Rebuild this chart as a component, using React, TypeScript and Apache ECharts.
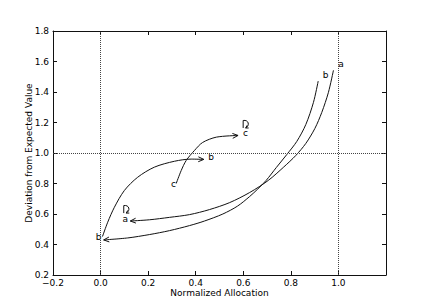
import React, { useEffect, useRef } from "react";
import * as echarts from "echarts";

// Trajectory curves (Normalized Allocation, Deviation from Expected Value)
const curveA: [number, number][] = [
  [0.979, 1.542], [0.958, 1.398], [0.93, 1.266], [0.901, 1.161], [0.863, 1.063],
  [0.821, 0.984], [0.77, 0.908], [0.705, 0.82], [0.627, 0.741], [0.543, 0.675],
  [0.458, 0.629], [0.374, 0.596], [0.29, 0.578], [0.205, 0.562], [0.125, 0.554],
];
const curveB: [number, number][] = [
  [0.915, 1.472], [0.895, 1.332], [0.863, 1.187], [0.825, 1.076], [0.783, 0.99],
  [0.739, 0.905], [0.696, 0.82], [0.661, 0.764], [0.627, 0.715], [0.576, 0.652],
  [0.514, 0.6], [0.437, 0.554], [0.374, 0.524], [0.29, 0.491], [0.205, 0.465],
  [0.114, 0.443], [0.013, 0.43],
];
const curveC: [number, number][] = [
  [0.008, 0.452], [0.03, 0.546], [0.058, 0.644], [0.1, 0.754], [0.156, 0.841],
  [0.226, 0.907], [0.311, 0.946], [0.381, 0.96], [0.434, 0.958],
];
const curveD: [number, number][] = [
  [0.318, 0.8], [0.339, 0.885], [0.36, 0.951], [0.395, 1.017], [0.429, 1.069],
  [0.487, 1.104], [0.578, 1.115],
];
const curves = [curveA, curveB, curveC, curveD];

// Point labels
const labelTexts = ["a", "b", "a", "b", "b", "c", "c"];
const labelX = [1.011, 0.946, 0.104, -0.008, 0.465, 0.306, 0.609];
const labelY = [1.581, 1.509, 0.57, 0.447, 0.974, 0.798, 1.133];

// Self-loop markers
const loopX = [0.108, 0.61];
const loopY = [0.629, 1.187];

// Reference lines
const refX = [0, 1];
const refY = [1];

// Axes
const xMin = -0.2, xMax = 1.2, xStep = 0.2;
const yMin = 0.2, yMax = 1.8, yStep = 0.2;
const xTitle = "Normalized Allocation";
const yTitle = "Deviation from Expected Value";

const FONT = "DejaVu Sans";
const INK = "#111";

export default function App() {
  const ref = useRef<HTMLDivElement>(null);
  useEffect(() => {
    if (!ref.current) return;
    const chart = echarts.init(ref.current, null, { renderer: "svg" });
    const fmtX = (v: number) => {
      if (v > 1.1) return "";
      const s = Math.abs(v).toFixed(1);
      return v < -1e-9 ? "\u2212" + s : s;
    };
    const tickStyle = { inside: true, length: 4, lineStyle: { color: INK, width: 1 } };
    const lineStyle = { show: true, onZero: false, lineStyle: { color: INK, width: 1 } };
    const arrowData = curves.map((c) => {
      const n = c.length;
      return [c[n - 1][0], c[n - 1][1], c[n - 2][0], c[n - 2][1]];
    });
    const option: any = {
      animation: false,
      backgroundColor: "#fff",
      grid: { left: 53, right: 43, top: 31, bottom: 30 },
      xAxis: [
        {
          type: "value", min: xMin, max: xMax, interval: xStep, position: "bottom",
          axisLine: lineStyle, axisTick: tickStyle, splitLine: { show: false },
          axisLabel: { formatter: fmtX, color: "#000", fontSize: 9, fontFamily: FONT, margin: 3 },
          name: xTitle, nameLocation: "middle", nameGap: 13, nameMoveOverlap: false,
          nameTextStyle: { color: "#000", fontSize: 9, fontFamily: FONT },
        },
        {
          type: "value", min: xMin, max: xMax, interval: xStep, position: "top",
          axisLine: lineStyle, axisTick: tickStyle, splitLine: { show: false },
          axisLabel: { show: false },
        },
      ],
      yAxis: [
        {
          type: "value", min: yMin, max: yMax, interval: yStep, position: "left",
          axisLine: lineStyle, axisTick: tickStyle, splitLine: { show: false },
          axisLabel: { formatter: (v: number) => v.toFixed(1), color: "#000", fontSize: 9, fontFamily: FONT, margin: 4 },
          name: yTitle, nameLocation: "middle", nameGap: 20, nameMoveOverlap: false,
          nameTextStyle: { color: "#000", fontSize: 9, fontFamily: FONT },
        },
        {
          type: "value", min: yMin, max: yMax, interval: yStep, position: "right",
          axisLine: lineStyle, axisTick: tickStyle, splitLine: { show: false },
          axisLabel: { show: false },
        },
      ],
      series: [
        ...curves.map((c, i) => ({
          type: "line",
          data: c,
          smooth: 0.3,
          showSymbol: false,
          symbol: "none",
          lineStyle: { color: INK, width: 1 },
          silent: true,
          markLine: i === 0 ? {
            silent: true,
            symbol: "none",
            label: { show: false },
            lineStyle: { type: "dotted", color: "#444", width: 1 },
            data: [...refX.map((v) => ({ xAxis: v })), ...refY.map((v) => ({ yAxis: v }))],
          } : undefined,
        })),
        {
          type: "custom",
          silent: true,
          data: arrowData,
          renderItem: (params: any, api: any) => {
            const tip = api.coord([api.value(0), api.value(1)]);
            const prev = api.coord([api.value(2), api.value(3)]);
            const a = Math.atan2(tip[1] - prev[1], tip[0] - prev[0]);
            const L = 6, h = 0.42;
            return {
              type: "polyline",
              shape: {
                points: [
                  [tip[0] - L * Math.cos(a - h), tip[1] - L * Math.sin(a - h)],
                  tip,
                  [tip[0] - L * Math.cos(a + h), tip[1] - L * Math.sin(a + h)],
                ],
              },
              style: { stroke: INK, fill: "none", lineWidth: 1 },
            };
          },
        },
        {
          type: "custom",
          silent: true,
          data: loopX.map((x, i) => [x, loopY[i]]),
          renderItem: (params: any, api: any) => {
            const p = api.coord([api.value(0), api.value(1)]);
            return {
              type: "group",
              x: p[0],
              y: p[1],
              children: [
                {
                  type: "polyline",
                  shape: { points: [[-2.5, 3.5], [-2.5, -4]] },
                  style: { stroke: INK, fill: "none", lineWidth: 1 },
                },
                {
                  type: "bezierCurve",
                  shape: { x1: -2.5, y1: -4, cpx1: 3, cpy1: -5, cpx2: 4.5, cpy2: 1, x2: 0, y2: 3.5 },
                  style: { stroke: INK, fill: "none", lineWidth: 1 },
                },
                {
                  type: "polyline",
                  shape: { points: [[3, 3.5], [0, 3.5], [1.5, 0.8]] },
                  style: { stroke: INK, fill: "none", lineWidth: 1 },
                },
              ],
            };
          },
        },
        {
          type: "custom",
          silent: true,
          data: labelX.map((x, i) => [x, labelY[i], i]),
          renderItem: (params: any, api: any) => {
            const p = api.coord([api.value(0), api.value(1)]);
            return {
              type: "text",
              x: p[0],
              y: p[1],
              style: {
                text: labelTexts[api.value(2)],
                fontSize: 9,
                fontFamily: FONT,
                fill: "#000",
                align: "center",
                verticalAlign: "middle",
              },
            };
          },
        },
      ],
    };
    chart.setOption(option);
    return () => chart.dispose();
  }, []);
  return (
    <div
      ref={ref}
      style={{ position: "fixed", left: 0, top: 0, width: 429, height: 305, background: "#fff" }}
    />
  );
}
